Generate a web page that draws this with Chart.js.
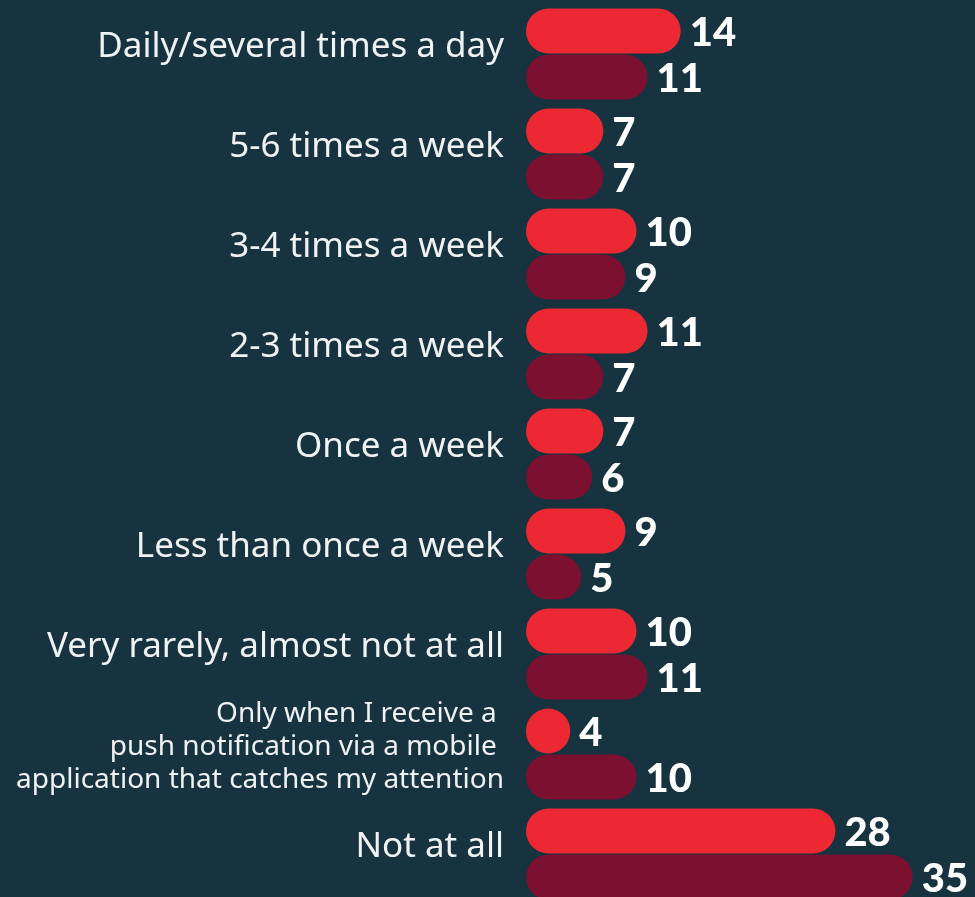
<!DOCTYPE html>
<html>
<head>
<meta charset="utf-8">
<script src="https://cdn.jsdelivr.net/npm/chart.js@4"></script>
<style>
  html, body { margin: 0; padding: 0; background: #173340; overflow: hidden; }
  #wrap { width: 975px; height: 906px; position: relative; }
</style>
</head>
<body>
<div id="wrap"><canvas id="chart"></canvas></div>
<script>
const categories = [
    "Daily/several times a day",
    "5-6 times a week",
    "3-4 times a week",
    "2-3 times a week",
    "Once a week",
    "Less than once a week",
    "Very rarely, almost not at all",
    ["Only when I receive a ", "push notification via a mobile ", "application that catches my attention"],
    "Not at all"
];
const seriesA = [14, 7, 10, 11, 7, 9, 10, 4, 28];
const seriesB = [11, 7, 9, 7, 6, 5, 11, 10, 35];

const RED = "#ec2832";
const MAROON = "#7b1030";

// value labels next to each bar
const valueLabels = {
    id: "valueLabels",
    afterDatasetsDraw(chart) {
        const ctx = chart.ctx;
        ctx.save();
        ctx.fillStyle = "#ffffff";
        ctx.font = "900 40px Lato";
        ctx.textBaseline = "middle";
        ctx.textAlign = "left";
        chart.data.datasets.forEach((ds, i) => {
            chart.getDatasetMeta(i).data.forEach((bar, j) => {
                ctx.fillText(ds.data[j], bar.x + 9, bar.y + 2);
            });
        });
        ctx.restore();
    }
};

new Chart(document.getElementById("chart"), {
    type: "bar",
    data: {
        labels: categories,
        datasets: [
            { data: seriesA, backgroundColor: RED, borderRadius: 23, borderSkipped: false,
              categoryPercentage: 0.92, barPercentage: 0.98 },
            { data: seriesB, backgroundColor: MAROON, borderRadius: 23, borderSkipped: false,
              categoryPercentage: 0.92, barPercentage: 0.98 }
        ]
    },
    options: {
        indexAxis: "y",
        responsive: true,
        maintainAspectRatio: false,
        animation: false,
        layout: { padding: { top: 4, bottom: 2, left: 0, right: 7 } },
        plugins: { legend: { display: false }, tooltip: { enabled: false } },
        scales: {
            x: {
                min: 0, max: 40,
                display: false
            },
            y: {
                grid: { display: false },
                border: { display: false },
                afterFit: (scale) => {
                    scale.width = 526;
                    scale.paddingTop = 0;
                    scale.paddingBottom = 0;
                },
                ticks: {
                    autoSkip: false,
                    color: "#eef2f3",
                    padding: 14,
                    labelOffset: -7,
                    font: (c) => c.index === 7
                        ? { family: "Noto Sans", size: 28, lineHeight: 1.18 }
                        : { family: "Noto Sans", size: 35 }
                }
            }
        }
    },
    plugins: [valueLabels]
});
</script>
</body>
</html>
